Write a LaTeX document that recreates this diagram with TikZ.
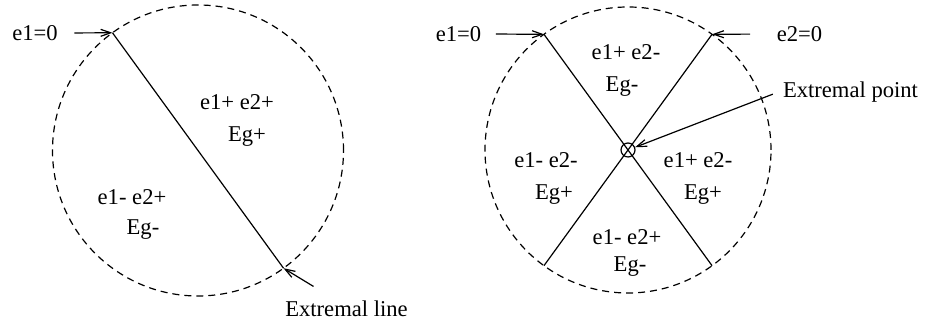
\documentclass[tikz,border=0pt]{standalone}
\usepackage{fontspec}
\setmainfont{Liberation Serif}
\usetikzlibrary{arrows.meta,positioning}

\begin{document}
\begin{tikzpicture}[
    x=0.5pt, y=0.5pt,
    line width=0.6pt,
    >={Straight Barb[length=5pt,width=3.5pt]},
    font=\fontsize{11.3}{13.5}\selectfont,
    region/.style={circle, draw, dash pattern=on 3.5pt off 2.5pt, inner sep=0pt, outer sep=0pt},
    sign/.style={inner sep=2pt}
]
\useasboundingbox (0,0) rectangle (930,324);

% Left picture: one constraint, extremal line
\node [region, minimum size=145.5pt] (c1) at (198,173.5) {};
\draw (c1.126) -- (c1.-54);

\node [sign] (e1l) at (35,291) {e1=0};
\draw [->, shorten <=6pt] (e1l.east) -- (c1.126);

\node [sign] (s1a) at (237,222) {e1+ e2+};
\node [sign] (s1b) at (247,187) {Eg+};
\node [sign] (s2a) at (132,127) {e1- e2+};
\node [sign] (s2b) at (143,94) {Eg-};

\node [sign] (eline) at (346.5,15) {Extremal line};
\draw [->] ([xshift=-16.5pt,yshift=5pt]eline.north) -- (c1.-54);

% Right picture: two constraints, extremal point
\node [region, minimum size=143pt] (c2) at (628,174) {};
\draw (c2.126) -- (c2.-54);
\draw (c2.54) -- (c2.-126);
\node [circle, draw, minimum size=7pt, inner sep=0pt] (mk) at (c2) {};

\node [sign] (e1r) at (458.5,290) {e1=0};
\node [sign] (e2r) at (799.5,290) {e2=0};
\draw [->, shorten <=5pt] (e1r.east) -- (c2.126);
\draw [->, shorten <=11pt] (e2r.west) -- (c2.54);

\node [sign] (t1) at (626,272) {e1+ e2-};
\node [sign] (t2) at (622,237) {Eg-};
\node [sign] (l1) at (546,164) {e1- e2-};
\node [sign] (l2) at (554,129) {Eg+};
\node [sign] (r1) at (698,164) {e1+ e2-};
\node [sign] (r2) at (703,129) {Eg+};
\node [sign] (b1) at (627,87) {e1- e2+};
\node [sign] (b2) at (630,57) {Eg-};

\node [sign] (epoint) at (850.5,232) {Extremal point};
\draw [->, shorten <=3pt] (epoint.west) -- (mk);

\end{tikzpicture}
\end{document}
